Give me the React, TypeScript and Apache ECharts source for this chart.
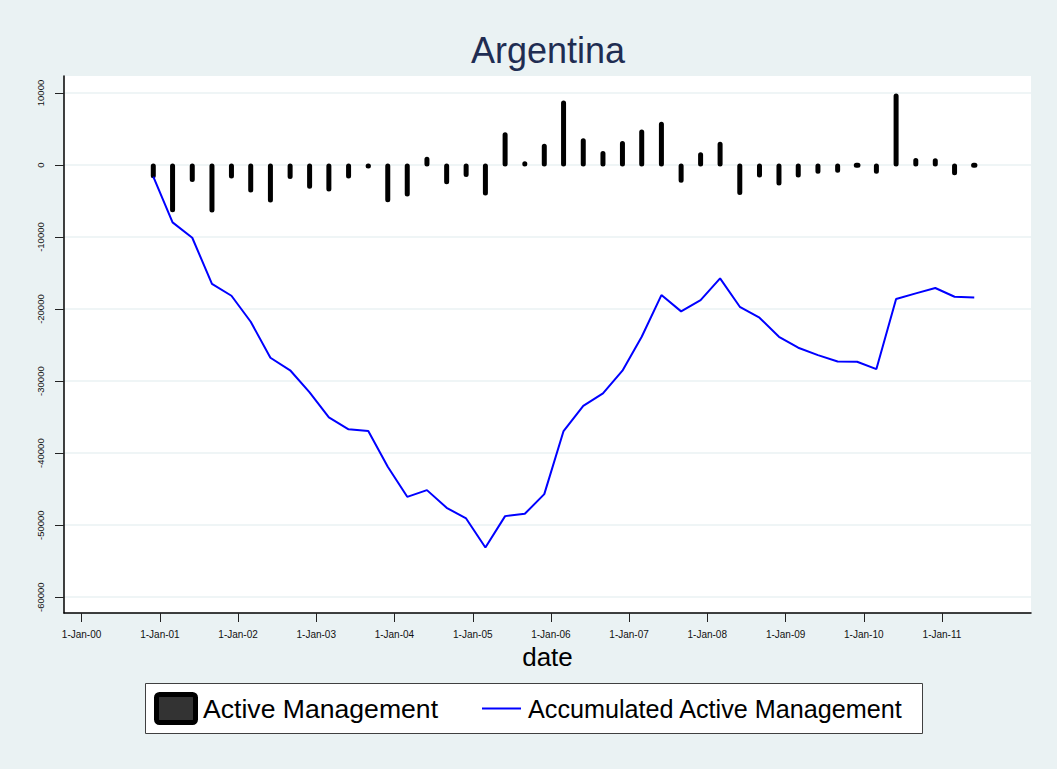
import React, { useEffect, useRef } from "react";
import * as echarts from "echarts";

// Quarterly observation dates
const dates: string[] = [
  "2000-12-01",
  "2001-03-01", "2001-06-01", "2001-09-01", "2001-12-01",
  "2002-03-01", "2002-06-01", "2002-09-01", "2002-12-01",
  "2003-03-01", "2003-06-01", "2003-09-01", "2003-12-01",
  "2004-03-01", "2004-06-01", "2004-09-01", "2004-12-01",
  "2005-03-01", "2005-06-01", "2005-09-01", "2005-12-01",
  "2006-03-01", "2006-06-01", "2006-09-01", "2006-12-01",
  "2007-03-01", "2007-06-01", "2007-09-01", "2007-12-01",
  "2008-03-01", "2008-06-01", "2008-09-01", "2008-12-01",
  "2009-03-01", "2009-06-01", "2009-09-01", "2009-12-01",
  "2010-03-01", "2010-06-01", "2010-09-01", "2010-12-01",
  "2011-03-01", "2011-06-01",
];

// Active Management (quarterly)
const activeManagement: number[] = [
  -1620, -6340, -2140, -6400, -1650, -3610, -5000, -1740, -3070, -3470,
  -1660, -240, -4960, -4170, 930, -2460, -1470, -4030, 4350, 320,
  2730, 8760, 3510, 1730, 3140, 4710, 5790, -2260, 1570, 3010,
  -3940, -1520, -2650, -1520, -1020, -880, -40, -1020, 9730, 780,
  740, -1210, -90,
];

// Accumulated Active Management
const accumulated: number[] = [
  -1620, -7960, -10100, -16500, -18150, -21760, -26760, -28500, -31570, -35040,
  -36700, -36940, -41900, -46070, -45140, -47600, -49070, -53100, -48750, -48430,
  -45700, -36940, -33430, -31700, -28560, -23850, -18060, -20320, -18750, -15740,
  -19680, -21200, -23850, -25370, -26390, -27270, -27310, -28330, -18600, -17820,
  -17080, -18290, -18380,
];

// Axis ticks
const xTickYears: number[] = [2000, 2001, 2002, 2003, 2004, 2005, 2006, 2007, 2008, 2009, 2010, 2011];
const xTickLabels: string[] = [
  "1-Jan-00", "1-Jan-01", "1-Jan-02", "1-Jan-03", "1-Jan-04", "1-Jan-05",
  "1-Jan-06", "1-Jan-07", "1-Jan-08", "1-Jan-09", "1-Jan-10", "1-Jan-11",
];
const yTicks: number[] = [-60000, -50000, -40000, -30000, -20000, -10000, 0, 10000];

const FONT = "'Liberation Sans', Arial, Helvetica, sans-serif";
const BG = "#eaf2f3";

function ts(s: string): number {
  const [y, m, d] = s.split("-").map(Number);
  return Date.UTC(y, m - 1, d);
}

export default function App() {
  const ref = useRef<HTMLDivElement>(null);

  useEffect(() => {
    document.body.style.margin = "0";
    if (!ref.current) return;
    const chart = echarts.init(ref.current, undefined, { renderer: "svg" });

    const xTickTs = xTickYears.map((y) => Date.UTC(y, 0, 1));
    const labelFor = (v: number) => {
      const i = xTickTs.indexOf(v);
      return i >= 0 ? xTickLabels[i] : "";
    };

    const barData = dates.map((d, i) => [ts(d), activeManagement[i]]);
    const lineData = dates.map((d, i) => [ts(d), accumulated[i]]);

    chart.setOption({
      animation: false,
      backgroundColor: BG,
      grid: { left: 64, right: 26, top: 76, bottom: 156, show: true, backgroundColor: "#ffffff", borderWidth: 0 },
      xAxis: {
        type: "value",
        min: Date.UTC(1999, 9, 11),
        max: Date.UTC(2012, 1, 21),
        name: "date",
        nameLocation: "middle",
        nameGap: 29,
        nameTextStyle: { fontSize: 26, color: "#000", fontFamily: FONT },
        axisLine: { show: true, onZero: false, lineStyle: { color: "#000", width: 1.5 } },
        axisTick: { show: true, length: 9, customValues: xTickTs, lineStyle: { color: "#222", width: 1 } },
        axisLabel: {
          customValues: xTickTs,
          formatter: (v: number) => labelFor(v),
          fontSize: 10,
          color: "#111",
          fontFamily: FONT,
          margin: 16,
          hideOverlap: false,
        },
        splitLine: { show: false },
      },
      yAxis: {
        type: "value",
        min: -62200,
        max: 12360,
        axisLine: { show: true, onZero: false, lineStyle: { color: "#000", width: 1.5 } },
        axisTick: { show: true, length: 9, customValues: yTicks, lineStyle: { color: "#222", width: 1 } },
        axisLabel: {
          customValues: yTicks,
          formatter: (v: number) => String(v),
          rotate: 90,
          fontSize: 9.5,
          color: "#111",
          fontFamily: FONT,
          margin: 19,
        },
        splitLine: { show: true, lineStyle: { color: BG, width: 1.5 } },
      },
      series: [
        {
          name: "Active Management",
          type: "bar",
          data: barData,
          barWidth: 2,
          itemStyle: {
            color: "#333333",
            borderColor: "#000000",
            borderWidth: 5,
            borderJoin: "round",
            borderCap: "round",
            borderRadius: 1,
          },
        },
        {
          name: "Accumulated Active Management",
          type: "line",
          data: lineData,
          symbol: "none",
          lineStyle: { color: "#0000ff", width: 2 },
        },
      ],
      graphic: [
        {
          type: "text",
          x: 548,
          y: 50,
          style: {
            text: "Argentina",
            fontSize: 36,
            fontFamily: FONT,
            fill: "#1f2d52",
            textAlign: "center",
            textVerticalAlign: "middle",
          },
        },
        {
          type: "rect",
          shape: { x: 145.5, y: 683.5, width: 777, height: 50 },
          style: { fill: "#ffffff", stroke: "#404040", lineWidth: 1 },
        },
        {
          type: "rect",
          shape: { x: 156.5, y: 694.5, width: 39, height: 28, r: 3 },
          style: { fill: "#333333", stroke: "#000000", lineWidth: 5, lineJoin: "round" },
        },
        {
          type: "text",
          x: 203,
          y: 709,
          style: {
            text: "Active Management",
            fontSize: 26.6,
            fontFamily: FONT,
            fill: "#000",
            textVerticalAlign: "middle",
          },
        },
        {
          type: "line",
          shape: { x1: 482, y1: 708.5, x2: 521, y2: 708.5 },
          style: { stroke: "#0000ff", lineWidth: 2 },
        },
        {
          type: "text",
          x: 528,
          y: 709,
          style: {
            text: "Accumulated Active Management",
            fontSize: 25.2,
            fontFamily: FONT,
            fill: "#000",
            textVerticalAlign: "middle",
          },
        },
      ],
    });

    return () => {
      chart.dispose();
    };
  }, []);

  return <div ref={ref} style={{ width: 1057, height: 769 }} />;
}
